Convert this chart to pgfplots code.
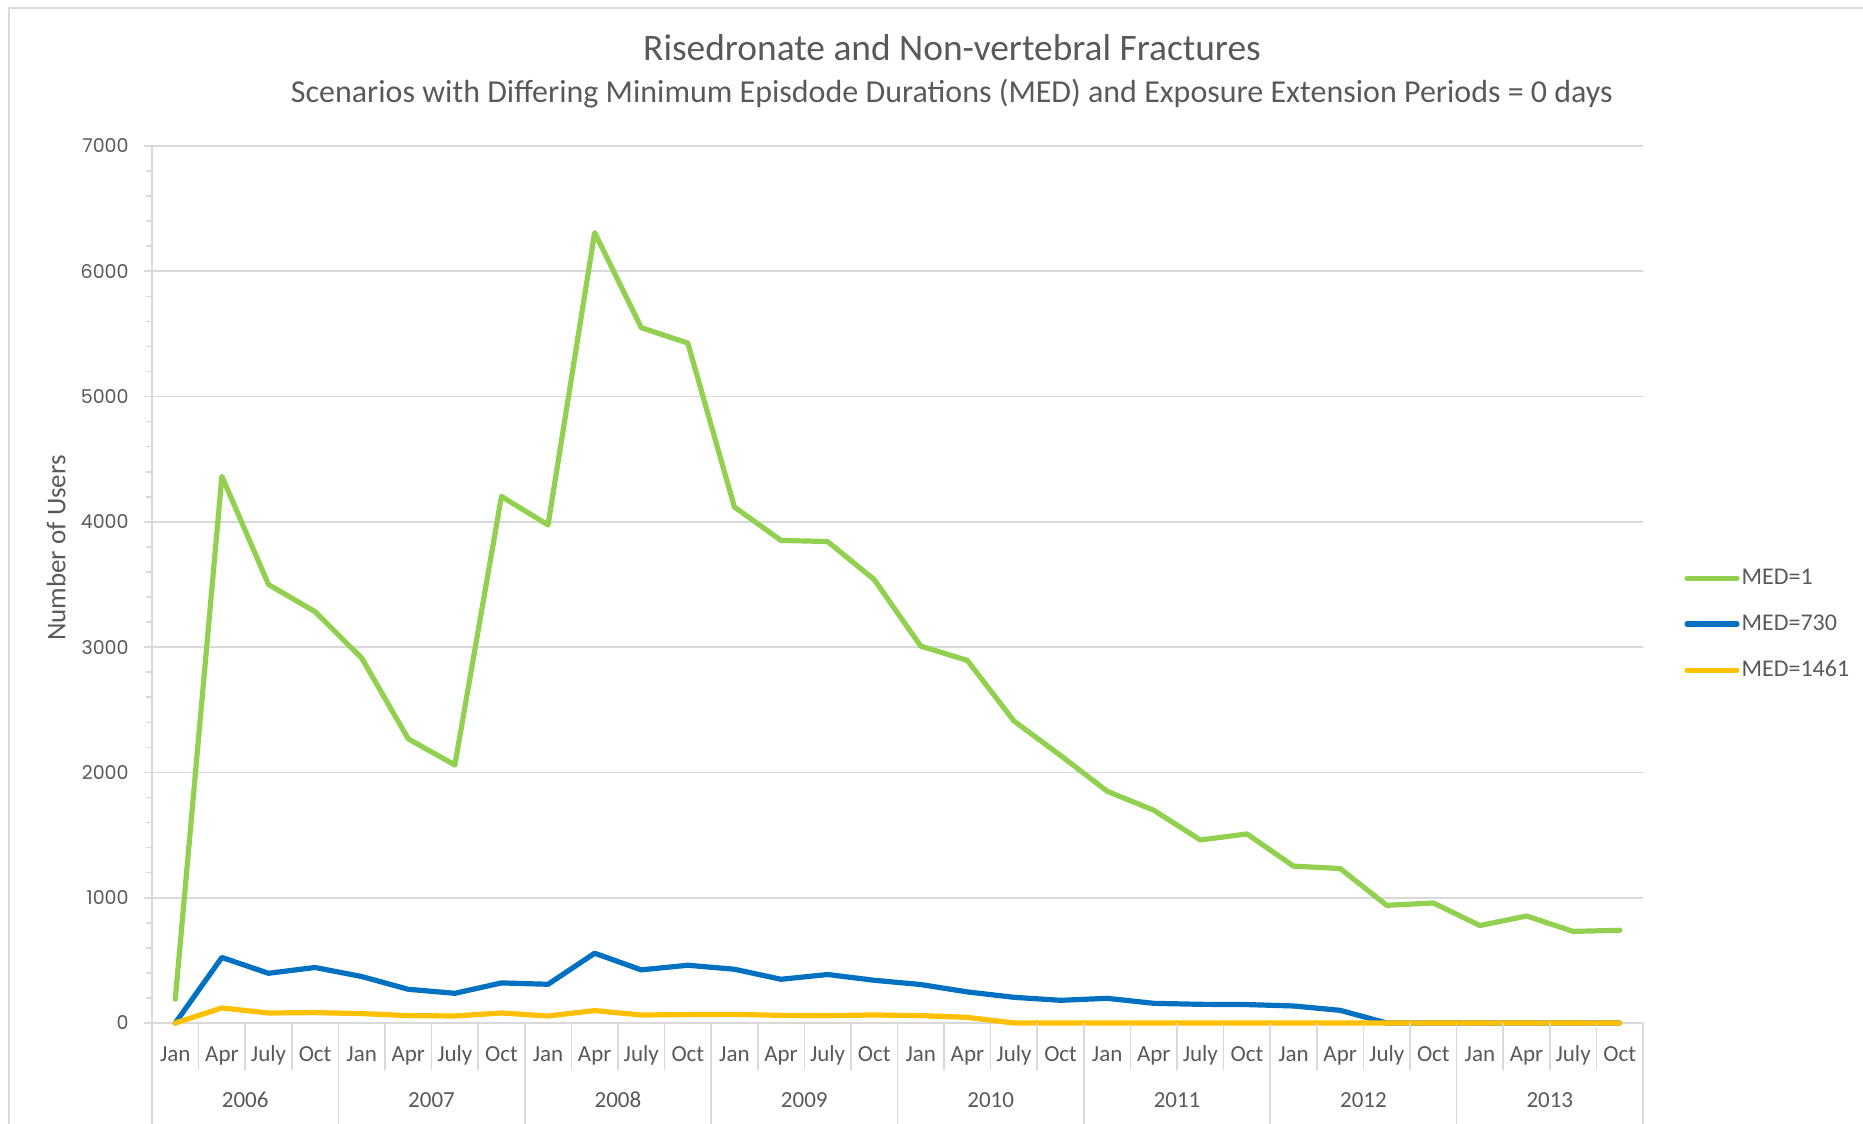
\documentclass[border=0pt]{standalone}
\usepackage{pgfplots}
\pgfplotsset{compat=1.18}
\usepackage{pgfplotstable}
\usepackage{fontspec}
\setmainfont{Carlito}
\newfontfamily\numfont{Poppins}
\definecolor{cgreen}{HTML}{92D050}
\definecolor{cblue}{HTML}{0070C0}
\definecolor{cyellow}{HTML}{FFC000}
\definecolor{ctext}{HTML}{595959}
\definecolor{cgrid}{HTML}{D9D9D9}

\pgfplotstableread{
x g b y
0 190 0 0
1 4364 523 120
2 3500 397 80
3 3283 443 83
4 2913 371 75
5 2268 269 59
6 2059 237 56
7 4203 320 80
8 3975 309 56
9 6309 557 99
10 5550 424 64
11 5427 461 67
12 4118 429 69
13 3852 349 61
14 3843 387 59
15 3539 341 64
16 3008 307 59
17 2894 248 45
18 2410 205 0
19 2135 181 0
20 1850 197 0
21 1698 157 0
22 1461 149 0
23 1509 147 0
24 1252 136 0
25 1233 101 0
26 939 0 0
27 958 0 0
28 778 0 0
29 854 0 0
30 731 0 0
31 740 0 0
}\datatable

\begin{document}
\begin{tikzpicture}
\useasboundingbox (0,0) rectangle (931.5pt,562pt);
\draw[cgrid, line width=1.2pt] (4.5pt,0) -- (4.5pt,558pt) -- (931.5pt,558pt);
\begin{axis}[
  at={(76pt,50.5pt)}, anchor=south west,
  scale only axis, width=745.5pt, height=438.5pt,
  xmin=-0.5, xmax=31.5, ymin=0, ymax=7000,
  clip=false,
  axis x line*=bottom, axis y line*=left,
  axis line style={cgrid, line width=0.8pt},
  ymajorgrids, grid style={cgrid, line width=0.8pt},
  ytick={0,1000,2000,3000,4000,5000,6000,7000},
  yticklabels={0,1000,2000,3000,4000,5000,6000,7000},
  minor y tick num=4,
  tick align=outside,
  major tick length=4pt, minor tick length=3pt,
  ytick style={cgrid, line width=0.8pt},
  minor y tick style={cgrid, line width=0.8pt},
  yticklabel style={font=\numfont\fontsize{9.5}{11}\selectfont, text=ctext, inner sep=0pt, xshift=-7.5pt},
  xtick={0,...,31},
  xticklabels={Jan,Apr,July,Oct,Jan,Apr,July,Oct,Jan,Apr,July,Oct,Jan,Apr,July,Oct,Jan,Apr,July,Oct,Jan,Apr,July,Oct,Jan,Apr,July,Oct,Jan,Apr,July,Oct},
  xtick style={draw=none},
  xticklabel style={font=\fontsize{11.5}{13}\selectfont, text=ctext, anchor=base, yshift=-15pt},
  legend style={draw=none, fill=none, at={(rel axis cs:1,0.4545)}, anchor=west, xshift=17.5pt,
    font=\fontsize{12}{14}\selectfont, text=ctext, row sep=11.6pt,
    nodes={inner sep=1pt}},
  legend cell align=left,
  legend image code/.code={\draw[#1, line cap=round] (0pt,0pt) -- (25pt,0pt);},
]
\addplot[cgreen, line width=2.6pt, line join=round, line cap=round] table[x=x, y=g] {\datatable};
\addlegendentry{MED=1}
\addplot[cblue, line width=2.6pt, line join=round, line cap=round] table[x=x, y=b] {\datatable};
\addlegendentry{MED=730}
\addplot[cyellow, line width=2.6pt, line join=round, line cap=round] table[x=x, y=y] {\datatable};
\addlegendentry{MED=1461}
\pgfplotsinvokeforeach{-0.5,0.5,...,31.5}{
  \draw[cgrid, line width=0.8pt] (axis cs:#1,0) -- ++(0pt,-23.5pt);
}
\pgfplotsinvokeforeach{-0.5,3.5,...,31.5}{
  \draw[cgrid, line width=0.8pt] (axis cs:#1,0) -- ++(0pt,-50.5pt);
}
\pgfplotsinvokeforeach{2006,2007,2008,2009,2010,2011,2012,2013}{
  \node[anchor=base, font=\fontsize{11.5}{13}\selectfont, text=ctext, inner sep=0pt]
    at (axis cs:{4*(#1-2006)+1.5},0) [yshift=-42pt] {#1};
}
\end{axis}
\node[text=ctext, font=\fontsize{18.7}{22}\selectfont, inner sep=0pt] at (476pt,538pt) {Risedronate and Non-vertebral Fractures};
\node[text=ctext, font=\fontsize{16}{19}\selectfont, inner sep=0pt] at (476pt,515.3pt) {Scenarios with Differing Minimum Episdode Durations (MED) and Exposure Extension Periods = 0 days};
\node[text=ctext, font=\fontsize{13.5}{16}\selectfont, rotate=90, inner sep=0pt] at (28pt,288pt) {Number of Users};
\end{tikzpicture}
\end{document}
